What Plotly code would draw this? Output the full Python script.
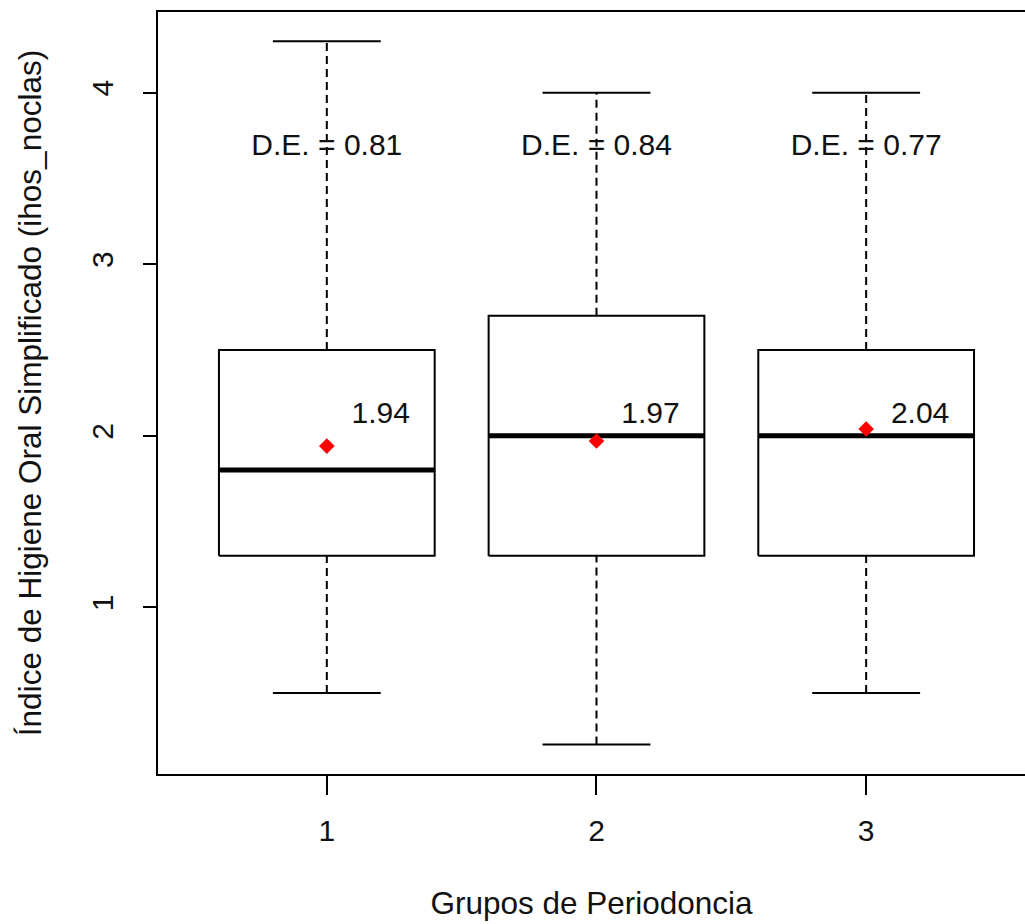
import plotly.graph_objects as go

# Summary statistics per group (Grupos de Periodoncia)
groups = [1, 2, 3]
whisker_low = [0.5, 0.2, 0.5]
q1 = [1.3, 1.3, 1.3]
median = [1.8, 2.0, 2.0]
q3 = [2.5, 2.7, 2.5]
whisker_high = [4.3, 4.0, 4.0]
means = [1.94, 1.97, 2.04]
std_dev = [0.81, 0.84, 0.77]

y_ticks = [1, 2, 3, 4]

BOX_HALF = 0.4
CAP_HALF = 0.2
SD_LABEL_Y = 3.68
MEAN_LABEL_DX = 0.2
MEAN_LABEL_Y = 2.12

FONT = "Liberation Sans, Arial, sans-serif"
FS = 30
FS_TITLE = 31.5

fig = go.Figure()

for i, g in enumerate(groups):
    # dashed whiskers
    for a, b in ((whisker_low[i], q1[i]), (q3[i], whisker_high[i])):
        fig.add_trace(go.Scatter(
            x=[g, g], y=[a, b], mode="lines",
            line=dict(color="black", width=2, dash="8px,5px"),
            hoverinfo="skip", showlegend=False))
    # whisker caps
    for v in (whisker_low[i], whisker_high[i]):
        fig.add_trace(go.Scatter(
            x=[g - CAP_HALF, g + CAP_HALF], y=[v, v], mode="lines",
            line=dict(color="black", width=2),
            hoverinfo="skip", showlegend=False))
    # box
    fig.add_trace(go.Scatter(
        x=[g - BOX_HALF, g + BOX_HALF, g + BOX_HALF, g - BOX_HALF, g - BOX_HALF],
        y=[q1[i], q1[i], q3[i], q3[i], q1[i]], mode="lines",
        fill="toself", fillcolor="white",
        line=dict(color="black", width=2),
        hoverinfo="skip", showlegend=False))
    # median
    fig.add_trace(go.Scatter(
        x=[g - BOX_HALF, g + BOX_HALF], y=[median[i], median[i]], mode="lines",
        line=dict(color="black", width=5),
        hoverinfo="skip", showlegend=False))

# means
fig.add_trace(go.Scatter(
    x=groups, y=means, mode="markers",
    marker=dict(symbol="diamond", size=12, color="red"),
    showlegend=False))

# text labels
fig.add_trace(go.Scatter(
    x=groups, y=[SD_LABEL_Y] * len(groups), mode="text",
    text=[f"D.E. = {s:.2f}" for s in std_dev],
    textfont=dict(family=FONT, size=FS, color="#111111"),
    hoverinfo="skip", showlegend=False))
fig.add_trace(go.Scatter(
    x=[g + MEAN_LABEL_DX for g in groups], y=[MEAN_LABEL_Y] * len(groups),
    mode="text", text=[f"{m:.2f}" for m in means],
    textfont=dict(family=FONT, size=FS, color="#111111"),
    hoverinfo="skip", showlegend=False))

fig.update_layout(
    width=1025, height=924,
    margin=dict(l=158, r=0, t=12, b=150),
    plot_bgcolor="white", paper_bgcolor="white",
    font=dict(family=FONT, size=FS, color="#111111"),
    showlegend=False,
    xaxis=dict(
        range=[0.374, 3.589], tickvals=groups, ticktext=[str(g) for g in groups],
        showgrid=False, zeroline=False,
        showline=True, linecolor="black", linewidth=2, mirror=True,
        ticks="outside", ticklen=19, tickwidth=2, tickcolor="black",
        ticklabelstandoff=10,
        title=dict(text="Grupos de Periodoncia", standoff=46,
                   font=dict(family=FONT, size=FS_TITLE)),
    ),
    yaxis=dict(
        range=[0.028, 4.471], tickvals=y_ticks,
        showgrid=False, zeroline=False,
        showline=True, linecolor="black", linewidth=2, mirror=False,
        ticks="outside", ticklen=13, tickwidth=2, tickcolor="black",
        tickangle=-90, ticklabelstandoff=18,
        title=dict(text="Índice de Higiene Oral Simplificado (ihos_noclas)",
                   standoff=35, font=dict(family=FONT, size=FS_TITLE)),
    ),
)

fig.write_html("out.html")
